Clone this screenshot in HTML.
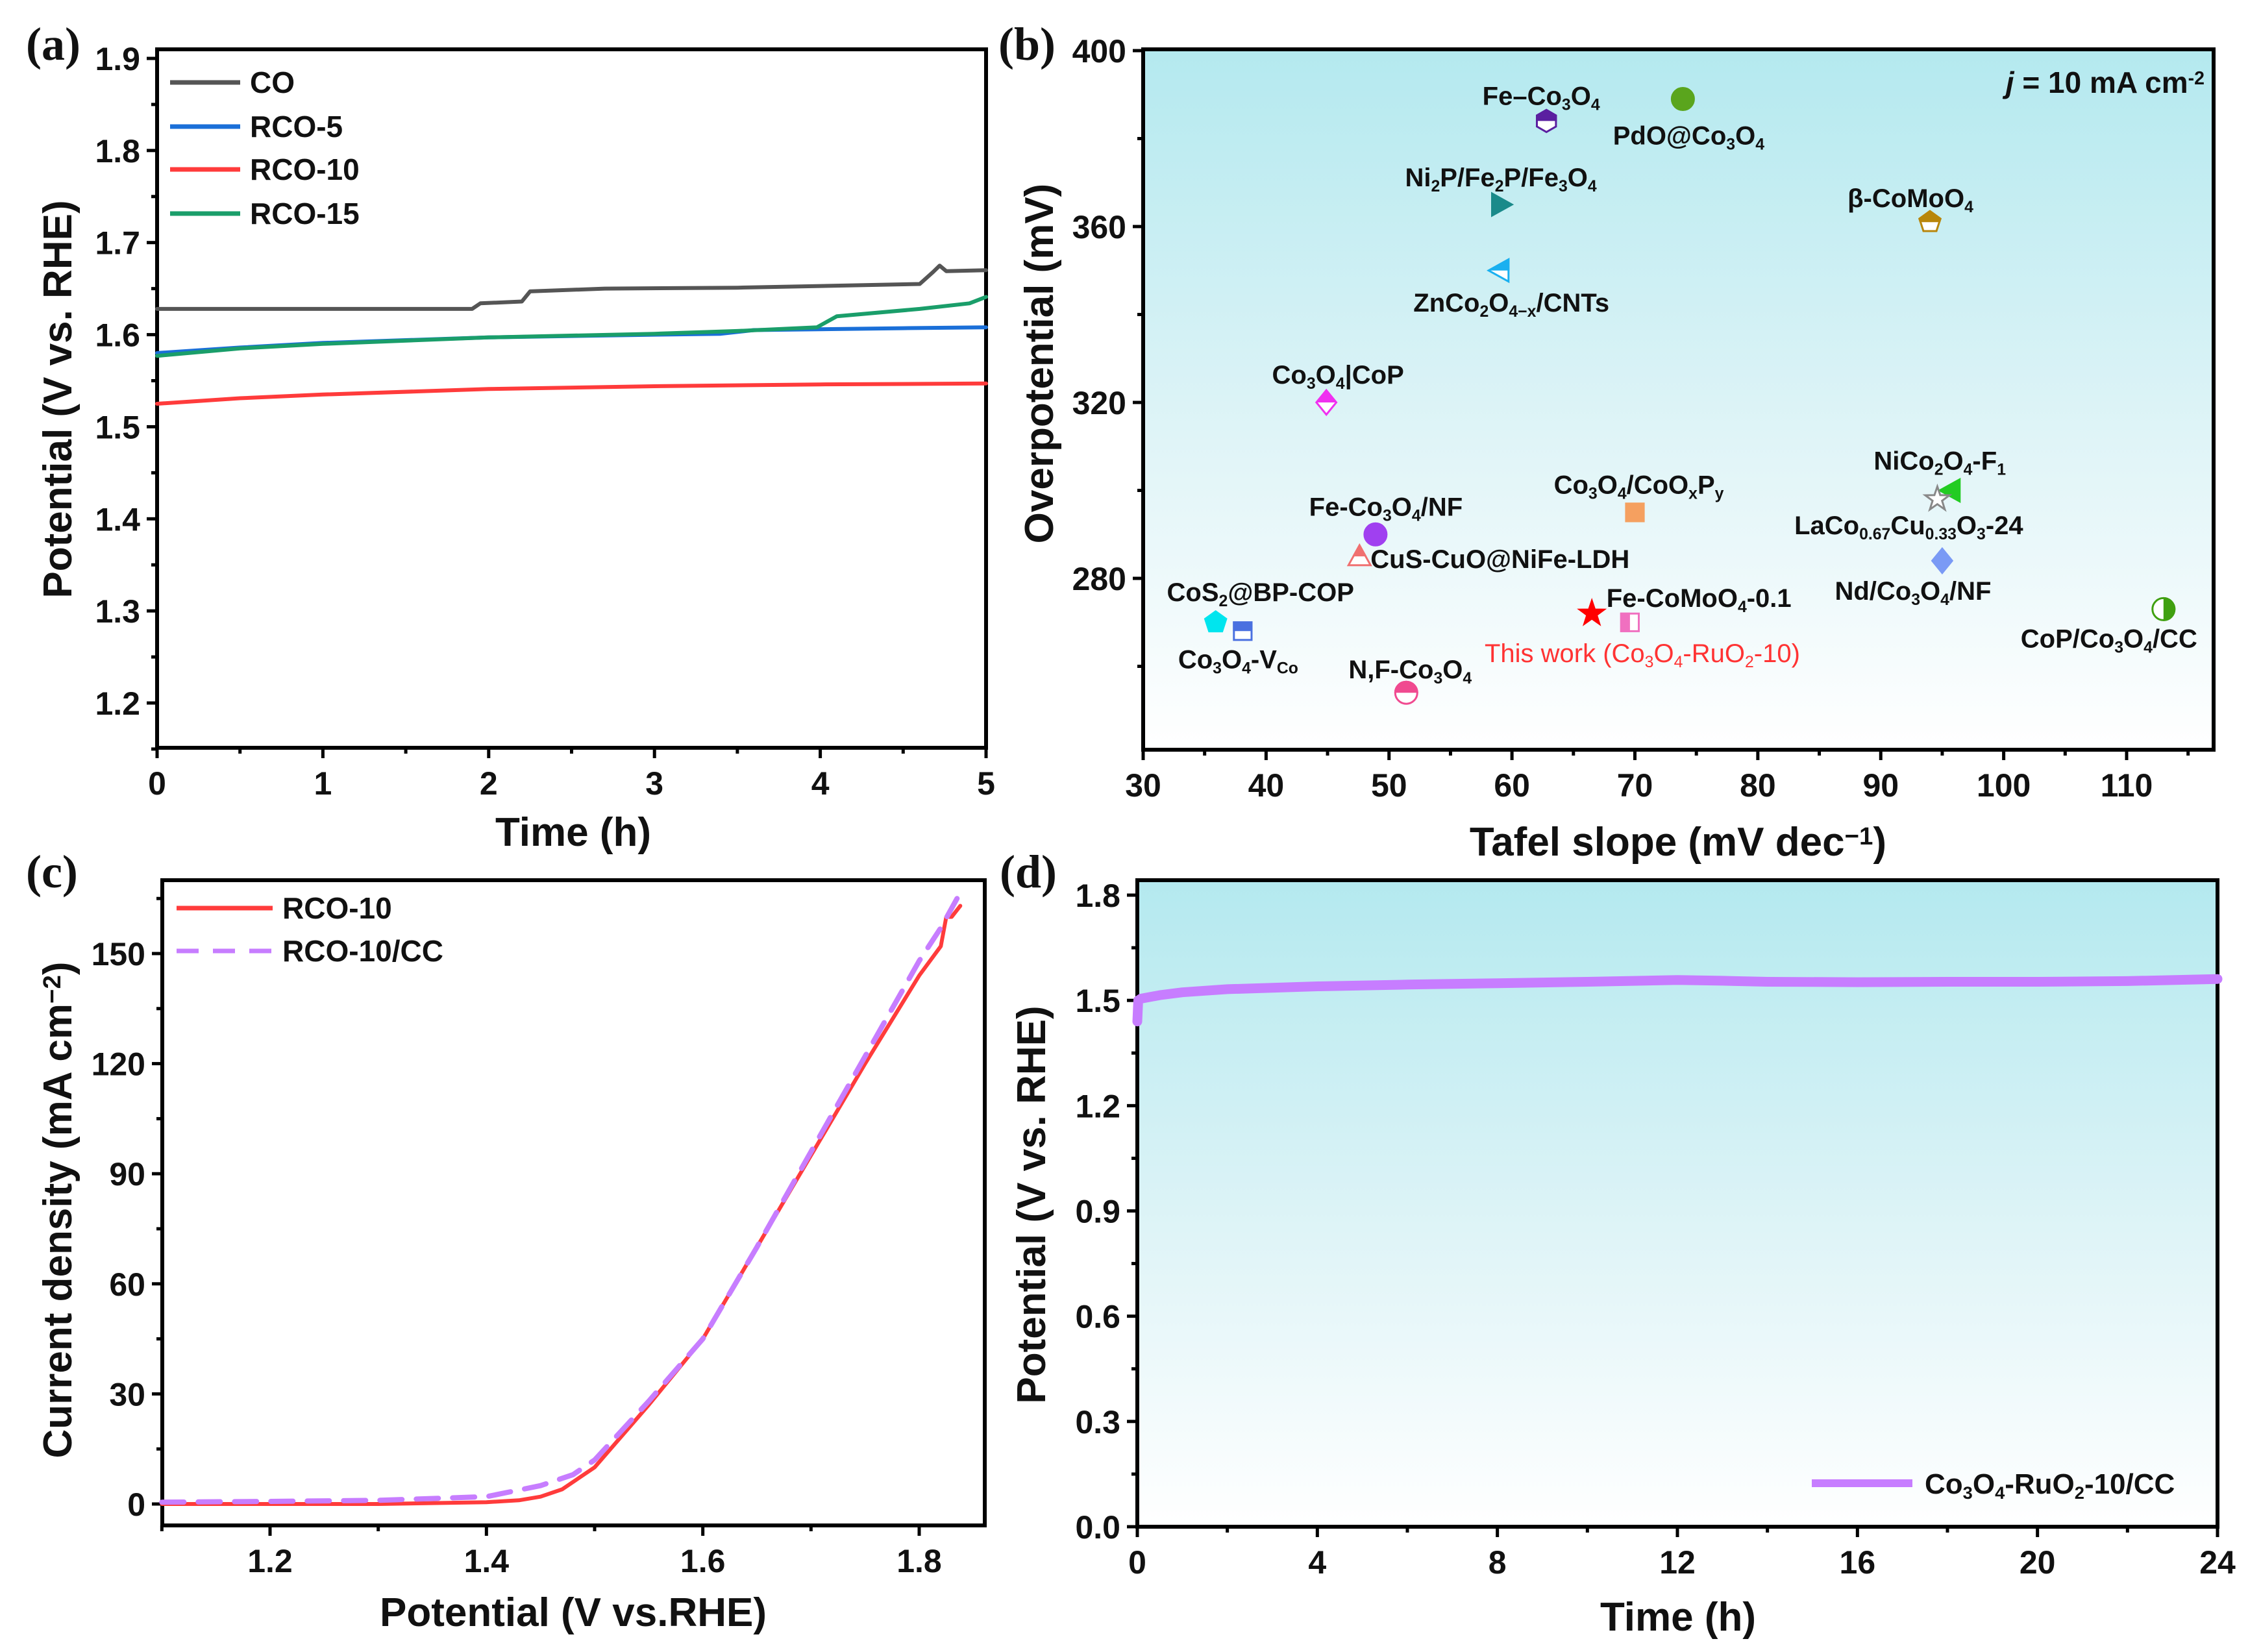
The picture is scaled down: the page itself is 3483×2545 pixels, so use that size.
<!DOCTYPE html>
<html><head><meta charset="utf-8"><style>
html,body{margin:0;padding:0;background:#fff;}
svg{display:block;}
text{font-family:"Liberation Sans Narrow","Liberation Sans",Arial,sans-serif;font-weight:bold;fill:#111;}
.pl{font-family:"Liberation Serif",serif;font-weight:bold;font-size:72px;}
</style></head><body>
<svg id="fig" width="3483" height="2545" viewBox="0 0 3483 2545" xmlns="http://www.w3.org/2000/svg">
<defs>
<linearGradient id="bg" x1="0" y1="0" x2="0" y2="1">
<stop offset="0" stop-color="#b4e9ef"/><stop offset="0.55" stop-color="#dff4f7"/><stop offset="1" stop-color="#ffffff"/>
</linearGradient>
</defs>
<rect x="1761" y="76" width="1649" height="1079" fill="url(#bg)"/>
<rect x="1752" y="1356" width="1664" height="996" fill="url(#bg)"/>
<g id="root"></g>
</svg>
<script>
// ---------- Panel (a) data ----------
const aCOx=[0,1.9,1.95,2.2,2.25,2.7,3.5,4.6,4.68,4.72,4.76,5];
const aCOy=[1.628,1.628,1.634,1.636,1.647,1.650,1.651,1.655,1.668,1.675,1.669,1.670];
const aR5x=[0,0.5,1,2,3,3.4,3.6,4.5,5];
const aR5y=[1.580,1.586,1.591,1.597,1.600,1.601,1.605,1.607,1.608];
const aR15x=[0,0.5,1,2,3,3.5,3.98,4.1,4.6,4.9,5];
const aR15y=[1.577,1.585,1.590,1.597,1.601,1.604,1.608,1.620,1.628,1.634,1.641];
const aR10x=[0,0.5,1,2,3,4,5];
const aR10y=[1.525,1.531,1.535,1.541,1.544,1.546,1.547];
const aXTicks=[0,1,2,3,4,5];
const aYTicks=[1.2,1.3,1.4,1.5,1.6,1.7,1.8,1.9];
// ---------- Panel (b) data ----------
const bNames=["Fe–Co_{3}O_{4}","PdO@Co_{3}O_{4}","Ni_{2}P/Fe_{2}P/Fe_{3}O_{4}","β-CoMoO_{4}","ZnCo_{2}O_{4−x}/CNTs","Co_{3}O_{4}|CoP","NiCo_{2}O_{4}-F_{1}","LaCo_{0.67}Cu_{0.33}O_{3}-24","Co_{3}O_{4}/CoO_{x}P_{y}","Fe-Co_{3}O_{4}/NF","CuS-CuO@NiFe-LDH","Nd/Co_{3}O_{4}/NF","CoS_{2}@BP-COP","Co_{3}O_{4}-V_{Co}","Fe-CoMoO_{4}-0.1","This work (Co_{3}O_{4}-RuO_{2}-10)","N,F-Co_{3}O_{4}","CoP/Co_{3}O_{4}/CC"];
const bTafel=[62.8,73.9,59.1,94.0,59.0,44.9,95.7,94.6,70.0,48.9,47.6,95.0,35.9,38.1,66.5,69.6,51.4,113.0];
const bOver=[384,389,365,361,350,320,300,298,295,290,285,284,270,268,272,270,254,273];
const bXTicks=[30,40,50,60,70,80,90,100,110];
const bYTicks=[280,320,360,400];
// ---------- Panel (c) data ----------
const cX=[1.10,1.20,1.30,1.40,1.43,1.45,1.47,1.50,1.55,1.60,1.65,1.70,1.75,1.80,1.82,1.825,1.83,1.838];
const cR10=[0,0,0,0.5,1,2,4,10,27,45,70,95,120,144,152,160,160,163];
const cCCx=[1.10,1.20,1.30,1.40,1.45,1.48,1.50,1.55,1.60,1.65,1.70,1.75,1.80,1.82,1.835];
const cCC=[0.5,0.7,1,2,5,8,12,28,45,70,96,122,148,157,165];
const cXTicks=[1.2,1.4,1.6,1.8];
const cYTicks=[0,30,60,90,120,150];
// ---------- Panel (d) data ----------
const dX=[0,0.02,0.08,0.5,1,2,4,6,8,10,12,13,14,16,18,20,22,24];
const dY=[1.44,1.50,1.505,1.515,1.523,1.532,1.540,1.545,1.549,1.553,1.558,1.556,1.553,1.552,1.553,1.553,1.555,1.561];
const dXTicks=[0,4,8,12,16,20,24];
const dYTicks=[0.0,0.3,0.6,0.9,1.2,1.5,1.8];

const NS="http://www.w3.org/2000/svg";
const root=document.getElementById('root');
function el(tag,attrs,parent){const e=document.createElementNS(NS,tag);for(const k in attrs)e.setAttribute(k,attrs[k]);(parent||root).appendChild(e);return e;}
function lin(d0,d1,r0,r1){return v=>r0+(v-d0)/(d1-d0)*(r1-r0);}
function rich(t,str,fs){
  const re=/([_^])\{([^}]*)\}|([^_^]+)/g;let m;
  while((m=re.exec(str))){
    const ts=document.createElementNS(NS,'tspan');
    if(m[3]){ts.textContent=m[3];}
    else{ts.textContent=m[2];ts.setAttribute('font-size',fs*0.62);ts.setAttribute('baseline-shift',m[1]==='_'?'-30%':'45%');}
    t.appendChild(ts);
  }
}
function text(x,y,str,fs,anchor,name,extra){
  const t=el('text',Object.assign({x:x,y:y,'font-size':fs,'text-anchor':anchor||'middle'},extra||{}));
  
  
  rich(t,str,fs);return t;
}
function axes(p,xt,yt,fmtX,fmtY,xMinor,yMinor,name){
  const g=el('g',{});
  
  
  el('rect',{x:p.L,y:p.T,width:p.R-p.L,height:p.B-p.T,fill:'none',stroke:'#000','stroke-width':6},g);
  xt.forEach((v,i)=>{const x=p.sx(v);
    el('line',{x1:x,y1:p.B,x2:x,y2:p.B+16,stroke:'#000','stroke-width':5},g);
    const t=text(x,p.B+72,fmtX(v),50,'middle','x-tick-label');});
  xMinor.forEach(v=>{const x=p.sx(v);el('line',{x1:x,y1:p.B,x2:x,y2:p.B+9,stroke:'#000','stroke-width':5},g);});
  yt.forEach(v=>{const y=p.sy(v);
    el('line',{x1:p.L,y1:y,x2:p.L-16,y2:y,stroke:'#000','stroke-width':5},g);
    text(p.L-26,y+18,fmtY(v),50,'end','y-tick-label');});
  yMinor.forEach(v=>{const y=p.sy(v);el('line',{x1:p.L,y1:y,x2:p.L-9,y2:y,stroke:'#000','stroke-width':5},g);});
}
function path(xs,ys,p,attrs,name){
  const d=xs.map((x,i)=>(i?'L':'M')+p.sx(x).toFixed(1)+','+p.sy(ys[i]).toFixed(1)).join(' ');
  const e=el('path',Object.assign({d:d,fill:'none','stroke-linejoin':'round','stroke-linecap':'round'},attrs));
  
  
  return e;
}
function range(a,b,s){const r=[];for(let v=a;v<=b+1e-9;v+=s)r.push(+v.toFixed(4));return r;}

// ===== Panel a =====
const A={L:242,R:1519,T:76,B:1152};A.sx=lin(0,5,A.L,A.R);A.sy=lin(1.2,1.9,1083,90);
axes(A,aXTicks,aYTicks,v=>String(v),v=>v.toFixed(1),range(0.5,4.5,1),range(1.15,1.85,0.1).filter(v=>v>=1.15),'panel-a');
path(aR10x,aR10y,A,{stroke:'#ff3b3b','stroke-width':6},'rco10-line');
path(aR5x,aR5y,A,{stroke:'#1a6fd8','stroke-width':6},'rco5-line');
path(aR15x,aR15y,A,{stroke:'#1a9e6a','stroke-width':6},'rco15-line');
path(aCOx,aCOy,A,{stroke:'#555','stroke-width':6},'co-line');
[['CO','#555',127],['RCO-5','#1a6fd8',195],['RCO-10','#ff3b3b',261],['RCO-15','#1a9e6a',329]].forEach(l=>{
  const ln=el('line',{x1:262,y1:l[2],x2:370,y2:l[2],stroke:l[1],'stroke-width':7});
  
  
  text(385,l[2]+16,l[0],46,'start','legend-entry');
});
text(883,1303,'Time (h)',62,'middle','x-axis-title');
text(0,0,'Potential (V vs. RHE)',62,'middle','y-axis-title',{transform:'translate(110,615) rotate(-90)'});
const la=el('text',{x:40,y:92,class:'pl'});la.textContent='(a)';



// ===== Panel b =====
const Bp={L:1761,R:3410,T:76,B:1155};Bp.sx=lin(30,110,1761,3276);Bp.sy=lin(280,400,891,78);
axes(Bp,bXTicks,bYTicks,v=>String(v),v=>String(v),range(35,115,10),range(260,380,40),'panel-b');
const bColors=['#5a1fa0','#5aa51d','#1a8a8a','#b8860b','#1ab0f0','#f030f0','#22cc22','#888888','#f5a060','#a040f0','#f07070','#7a9af5','#00e5ee','#4a70e0','#ff0000','#f070c0','#f04a90','#40a010'];
const bShapes=['hex','sphere','tri-r','pent','tri-l','diam','tri-l','star-o','sq','circ','tri-u','diam','pent','sq','star','sq','circ','circ'];
const bHalf=[1,0,0,1,1,1,0,0,0,0,1,0,0,1,0,2,1,3];
const bOff=[[-8,-39],[9,56],[0,-42],[-30,-37],[18,49],[18,-43],[-17,-46],[-44,40],[6,-43],[16,-43],[17,4],[-45,46],[69,-47],[-7,43],[165,-24],[19,47],[6,-36],[-84,45]];
function shapePts(s,r){
  const pts=[];
  if(s==='hex'){for(let k=0;k<6;k++){const a=Math.PI/6+k*Math.PI/3;pts.push([r*Math.cos(a),r*Math.sin(a)]);}}
  else if(s==='pent'){for(let k=0;k<5;k++){const a=-Math.PI/2+k*2*Math.PI/5;pts.push([r*Math.cos(a),r*Math.sin(a)]);}}
  else if(s==='tri-r')pts.push([-r*0.8,-r],[r,0],[-r*0.8,r]);
  else if(s==='tri-l')pts.push([r*0.8,-r],[-r,0],[r*0.8,r]);
  else if(s==='tri-u')pts.push([0,-r],[r,r*0.8],[-r,r*0.8]);
  else if(s==='diam')pts.push([0,-r*1.1],[r*0.9,0],[0,r*1.1],[-r*0.9,0]);
  else if(s==='sq')pts.push([-r*0.8,-r*0.8],[r*0.8,-r*0.8],[r*0.8,r*0.8],[-r*0.8,r*0.8]);
  else if(s.startsWith('star')){for(let k=0;k<10;k++){const a=-Math.PI/2+k*Math.PI/5;const rr=k%2?r*0.45:r*1.15;pts.push([rr*Math.cos(a),rr*Math.sin(a)]);}}
  return pts;
}
bNames.forEach((nm,i)=>{
  const x=Bp.sx(bTafel[i]),y=Bp.sy(bOver[i]),c=bColors[i],s=bShapes[i],r=17;
  const g=el('g',{transform:`translate(${x.toFixed(1)},${y.toFixed(1)})`});
  
  
  const clipId='cl'+i;
  const cp=el('clipPath',{id:clipId},g);
  const h=bHalf[i];
  if(h===1)el('rect',{x:-40,y:-40,width:80,height:40},cp);
  else if(h===2)el('rect',{x:-40,y:-40,width:40,height:80},cp);
  else if(h===3)el('rect',{x:0,y:-40,width:40,height:80},cp);
  else el('rect',{x:-40,y:-40,width:80,height:80},cp);
  let mk=(fill,clip)=>{
    const a={fill:fill,stroke:c,'stroke-width':3};if(clip)a['clip-path']=`url(#${clipId})`;
    if(s==='circ'||s==='sphere')return el('circle',Object.assign({r:r},a),g);
    return el('polygon',Object.assign({points:shapePts(s,r).map(p=>p.map(v=>v.toFixed(1)).join(',')).join(' ')},a),g);
  };
  if(s==='star-o'){mk('#fff',false);}
  else if(h){mk('#fff',false);mk(c,true);}
  else mk(c,false);
  const o=bOff[i];
  const anchor=i===10?'start':'middle';
  text(x+o[0],y+o[1]+14,nm,40,anchor,'point-label',i===15?{fill:'#ff3333',style:'fill:#ff3333;font-weight:normal'}:{});
});
const jn=el('text',{x:3396,y:143,'font-size':46,'text-anchor':'end'});


const jts=document.createElementNS(NS,'tspan');jts.setAttribute('font-style','italic');jts.textContent='j ';jn.appendChild(jts);
rich(jn,'= 10 mA cm^{-2}',46);
text(2585,1318,'Tafel slope (mV dec^{−1})',62,'middle','x-axis-title');
text(0,0,'Overpotential (mV)',62,'middle','y-axis-title',{transform:'translate(1622,560) rotate(-90)'});
const lb=el('text',{x:1538,y:92,class:'pl'});lb.textContent='(b)';



// ===== Panel c =====
const C={L:250,R:1517,T:1356,B:2350};C.sx=lin(1.2,1.8,416,1416);C.sy=lin(0,150,2317,1469);
axes(C,cXTicks,cYTicks,v=>v.toFixed(1),v=>String(v),range(1.1,1.7,0.2),range(15,165,30),'panel-c');
path(cX,cR10,C,{stroke:'#ff3b3b','stroke-width':6},'rco10-lsv-line');
path(cCCx,cCC,C,{stroke:'#c77dff','stroke-width':8,'stroke-dasharray':'34,22'},'rco10-cc-lsv-line');
[['RCO-10','#ff3b3b',1399,''],['RCO-10/CC','#c77dff',1465,'34,22']].forEach(l=>{
  const ln=el('line',{x1:272,y1:l[2],x2:420,y2:l[2],stroke:l[1],'stroke-width':7,'stroke-dasharray':l[3]||'none'});
  
  
  text(435,l[2]+16,l[0],46,'start','legend-entry');
});
text(883,2505,'Potential (V vs.RHE)',62,'middle','x-axis-title');
text(0,0,'Current density (mA cm^{−2})',62,'middle','y-axis-title',{transform:'translate(110,1864) rotate(-90)'});
const lc=el('text',{x:40,y:1367,class:'pl'});lc.textContent='(c)';



// ===== Panel d =====
const D={L:1752,R:3416,T:1356,B:2352};D.sx=lin(0,24,1752,3416);D.sy=lin(0,1.8,2352,1379);
axes(D,dXTicks,dYTicks,v=>String(v),v=>v.toFixed(1),range(2,22,4),range(0.15,1.65,0.3),'panel-d');
path(dX,dY,D,{stroke:'#c77dff','stroke-width':15},'co3o4-ruo2-stability-line');
const ld=el('line',{x1:2791,y1:2285,x2:2946,y2:2285,stroke:'#c77dff','stroke-width':12});


text(2965,2301,'Co_{3}O_{4}-RuO_{2}-10/CC',44,'start','legend-entry');
text(2585,2512,'Time (h)',62,'middle','x-axis-title');
text(0,0,'Potential (V vs. RHE)',62,'middle','y-axis-title',{transform:'translate(1610,1856) rotate(-90)'});
const ldd=el('text',{x:1540,y:1367,class:'pl'});ldd.textContent='(d)';


</script>
</body></html>
